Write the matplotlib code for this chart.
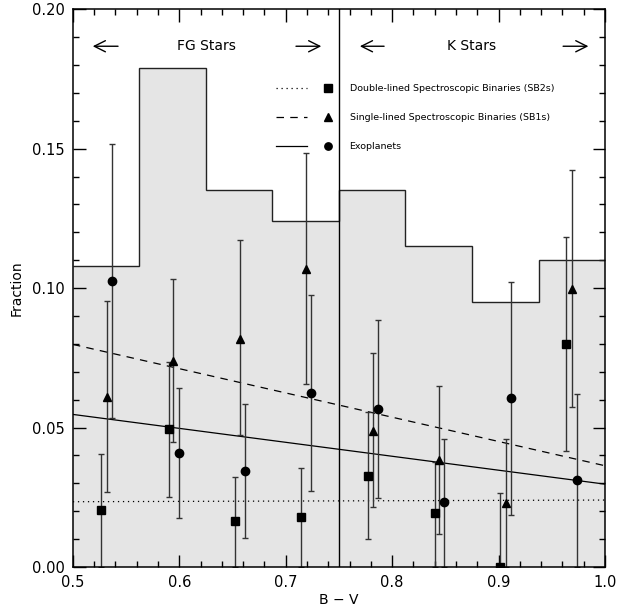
import numpy as np
import matplotlib
matplotlib.use("Agg")
import matplotlib.pyplot as plt
from matplotlib.ticker import MultipleLocator, FormatStrFormatter

# histogram of the sample (B-V bins)
bin_edges = [0.5, 0.5625, 0.625, 0.6875, 0.75, 0.8125, 0.875, 0.9375, 1.0]
hist_vals = [0.108, 0.179, 0.135, 0.124, 0.135, 0.115, 0.095, 0.110]

# SB2s
sb2_x = [0.526, 0.590, 0.652, 0.714, 0.777, 0.840, 0.901, 0.963]
sb2_y = [0.0203, 0.0493, 0.0165, 0.0179, 0.0325, 0.0194, 0.0, 0.0798]
sb2_lo = [0.0203, 0.0242, 0.0165, 0.0179, 0.0225, 0.0194, 0.0, 0.0382]
sb2_hi = [0.0202, 0.0241, 0.0159, 0.0175, 0.0229, 0.0181, 0.0264, 0.0386]

# SB1s
sb1_x = [0.532, 0.594, 0.657, 0.719, 0.782, 0.844, 0.907, 0.969]
sb1_y = [0.061, 0.0738, 0.0816, 0.107, 0.0489, 0.0382, 0.023, 0.0997]
sb1_lo = [0.0341, 0.029, 0.0344, 0.0413, 0.0275, 0.0265, 0.023, 0.0422]
sb1_hi = [0.0344, 0.0293, 0.0356, 0.0415, 0.028, 0.0268, 0.023, 0.0426]

# exoplanets
exo_x = [0.537, 0.600, 0.662, 0.724, 0.787, 0.849, 0.912, 0.974]
exo_y = [0.1025, 0.041, 0.0344, 0.0624, 0.0566, 0.0232, 0.0605, 0.0312]
exo_lo = [0.0492, 0.0233, 0.024, 0.0352, 0.032, 0.0232, 0.0419, 0.0312]
exo_hi = [0.0491, 0.0233, 0.024, 0.0352, 0.0318, 0.0228, 0.0415, 0.0308]

# linear fits (value at B-V = 0.5 and 1.0)
fit_x = [0.5, 1.0]
fit_sb2 = [0.0234, 0.0240]
fit_sb1 = [0.0798, 0.0363]
fit_exo = [0.0547, 0.0297]

fig = plt.figure(figsize=(6.18, 6.10), dpi=100)
ax = fig.add_axes([0.118, 0.0705, 0.861, 0.9145])

ax.stairs(hist_vals, bin_edges, fill=True, color='#e5e5e5', zorder=1)
ax.stairs(hist_vals, bin_edges, baseline=None, color='#222222', lw=1.0, zorder=2)
ax.axvline(0.75, color='k', lw=1.0, zorder=2)

ax.plot(fit_x, fit_sb2, color='k', lw=0.9, ls=(0, (1, 3)), zorder=3)
ax.plot(fit_x, fit_sb1, color='k', lw=0.9, ls=(0, (6, 5)), zorder=3)
ax.plot(fit_x, fit_exo, color='k', lw=0.9, ls='-', zorder=3)

ekw = dict(ls='none', color='k', ecolor='#333333', elinewidth=1.0, capsize=2.5,
           capthick=1.0, zorder=4)
ax.errorbar(sb2_x, sb2_y, yerr=[sb2_lo, sb2_hi], fmt='s', ms=5.3, **ekw)
ax.errorbar(sb1_x, sb1_y, yerr=[sb1_lo, sb1_hi], fmt='^', ms=5.3, **ekw)
ax.errorbar(exo_x, exo_y, yerr=[exo_lo, exo_hi], fmt='o', ms=6, **ekw)

# header labels with arrows
ax.text(0.625, 0.1867, 'FG Stars', ha='center', va='center', fontsize=10)
ax.text(0.875, 0.1867, 'K Stars', ha='center', va='center', fontsize=10)
aprops = dict(arrowstyle='->', lw=1.0, color='k', mutation_scale=20)
for x0, x1 in [(0.545, 0.516), (0.707, 0.736), (0.795, 0.767), (0.958, 0.987)]:
    ax.annotate('', xy=(x1, 0.1867), xytext=(x0, 0.1867), arrowprops=aprops)

# legend drawn by hand
rows = [(0.1717, (0, (1, 3)), 's', 'Double-lined Spectroscopic Binaries (SB2s)'),
        (0.1613, (0, (6, 5)), '^', 'Single-lined Spectroscopic Binaries (SB1s)'),
        (0.1509, '-', 'o', 'Exoplanets')]
for yy, ls, mk, lab in rows:
    ax.plot([0.691, 0.720], [yy, yy], color='k', lw=0.9, ls=ls)
    ax.plot([0.7397], [yy], marker=mk, color='k', ms=5.3)
    ax.text(0.760, yy, lab, ha='left', va='center', fontsize=6.8)

ax.set_xlim(0.5, 1.0)
ax.set_ylim(0.0, 0.2)
ax.xaxis.set_major_locator(MultipleLocator(0.1))
ax.xaxis.set_minor_locator(MultipleLocator(0.02))
ax.yaxis.set_major_locator(MultipleLocator(0.05))
ax.yaxis.set_minor_locator(MultipleLocator(0.01))
ax.xaxis.set_major_formatter(FormatStrFormatter('%.1f'))
ax.yaxis.set_major_formatter(FormatStrFormatter('%.2f'))
ax.tick_params(which='both', direction='in', top=True, right=True, labelsize=10.5, width=1.0)
ax.tick_params(which='major', length=9, pad=6)
ax.tick_params(which='minor', length=4.5)
for s in ax.spines.values():
    s.set_linewidth(1.1)
    s.set_zorder(5)

ax.set_xlabel('B \u2212 V', fontsize=10, labelpad=2)
ax.set_ylabel('Fraction', fontsize=10, labelpad=6)

fig.savefig('out.png', dpi=100)
